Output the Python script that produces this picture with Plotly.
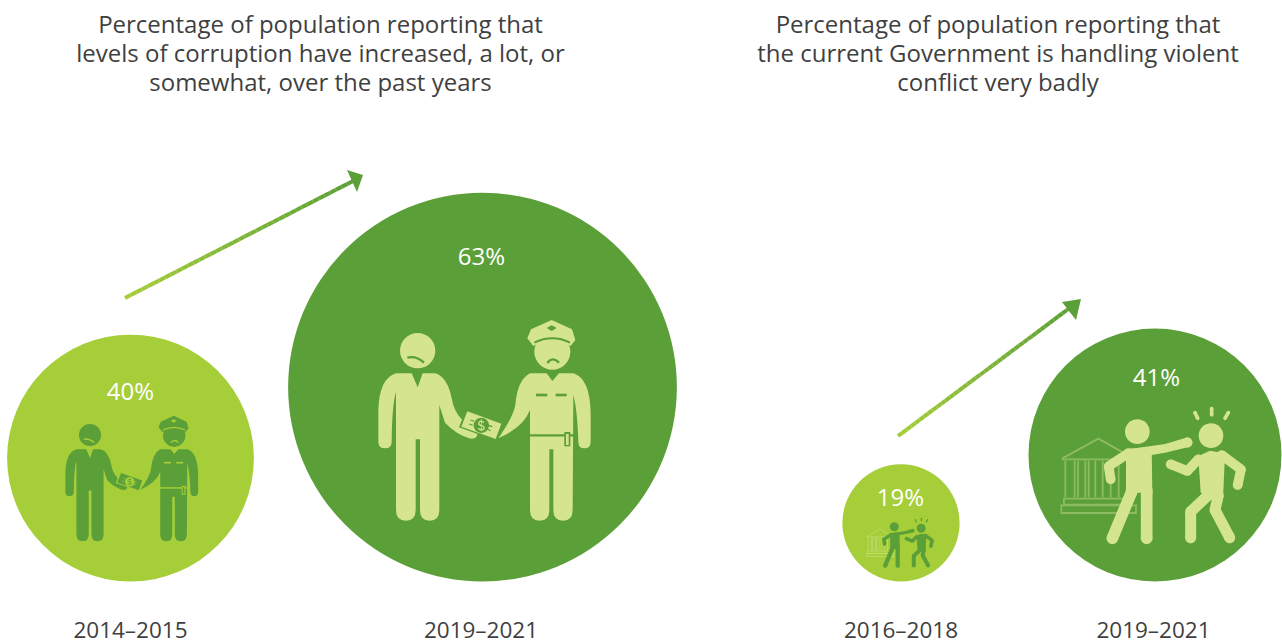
import re

import plotly.graph_objects as go

# data
CATEGORIES = ["2014–2015", "2019–2021", "2016–2018", "2019–2021"]
VALUES = [40, 63, 19, 41]
VALUE_LABELS = ["40%", "63%", "19%", "41%"]
TITLE_LEFT = [
    "Percentage of population reporting that",
    "levels of corruption have increased, a lot, or",
    "somewhat, over the past years",
]
TITLE_RIGHT = [
    "Percentage of population reporting that",
    "the current Government is handling violent",
    "conflict very badly",
]

LIGHT = "#A6CE39"
DARK = "#5B9F38"
PALE = "#D5E48F"
TEXT = "#3F3F3F"
FONT = "Open Sans"

W, H = 1282, 642
PX_PER_POINT = 6.17
BASELINE = 581.5
CENTERS = [130.5, 482.5, 901, 1155]
CATEGORY_X = [130.5, 481, 901, 1153.5]
LABEL_X = [130.5, 481.5, 900.5, 1156.5]
LABEL_Y = [394, 259, 500, 380]
TITLE_Y = [27, 56, 85]

shapes = []


def place(path, ox, oy, k):
    # path is written in a local icon coordinate system
    out, is_x = [], True
    for tok in re.findall(r"[A-Za-z]|-?[\d.]+", path):
        if tok.isalpha():
            out.append(tok)
            is_x = True
        else:
            out.append(f"{(ox if is_x else oy) + float(tok) * k:.2f}")
            is_x = not is_x
    return " ".join(out)


def circle_path(cx, cy, r):
    c = r * 0.5523
    return (
        f"M {cx - r} {cy} C {cx - r} {cy - c} {cx - c} {cy - r} {cx} {cy - r} "
        f"C {cx + c} {cy - r} {cx + r} {cy - c} {cx + r} {cy} "
        f"C {cx + r} {cy + c} {cx + c} {cy + r} {cx} {cy + r} "
        f"C {cx - c} {cy + r} {cx - r} {cy + c} {cx - r} {cy} Z"
    )


def fill(path, color, t):
    shapes.append(dict(type="path", xref="x", yref="y", path=place(path, *t), fillcolor=color, line_width=0, layer="above"))


def stroke(path, color, width, t):
    shapes.append(
        dict(type="path", xref="x", yref="y", path=place(path, *t), fillcolor="rgba(0,0,0,0)",
             line=dict(color=color, width=max(width * t[2], 0.5)), layer="above")
    )


def limb(points, width, color, t):
    # polyline with round caps and joints
    r = width / 2
    for (x1, y1), (x2, y2) in zip(points, points[1:]):
        dx, dy = x2 - x1, y2 - y1
        n = (dx * dx + dy * dy) ** 0.5
        px, py = -dy / n * r, dx / n * r
        fill(f"M {x1 + px} {y1 + py} L {x2 + px} {y2 + py} L {x2 - px} {y2 - py} L {x1 - px} {y1 - py} Z", color, t)
    for x, y in points:
        fill(circle_path(x, y, r), color, t)


def bribe_icon(fg, bg, t):
    # man
    fill(circle_path(173, 122, 53), fg, t)
    stroke("M 142 143 Q 168 136 192 158", bg, 7, t)
    fill(
        "M 108 190 L 155 190 L 173 232 L 188 190 L 225 190 Q 262 200 275 265 Q 282 305 305 328 Q 330 355 352 372 "
        "Q 352 386 332 386 Q 290 375 255 338 L 238 285 L 238 600 Q 238 632 209 632 Q 180 632 180 600 L 180 388 "
        "L 167 388 L 167 600 Q 167 632 138 632 Q 108 632 108 600 L 108 245 Q 96 285 95 395 Q 95 415 75 415 "
        "Q 55 415 55 395 L 55 300 Q 58 205 108 190 Z",
        fg, t,
    )
    # policeman
    fill(circle_path(577, 125, 54), fg, t)
    stroke("M 562 159 Q 578 138 597 158", bg, 7, t)
    fill(
        "M 502 85 L 513 58 L 575 30 L 636 58 L 646 90 L 632 108 Q 577 75 520 108 Z",
        fg, t,
    )
    stroke("M 523 98 Q 577 72 630 98", bg, 6, t)
    fill("M 560 54 L 575 46 L 590 54 L 575 63 Z", bg, t)
    fill(
        "M 510 190 L 560 190 L 577 213 L 597 190 L 640 190 Q 690 205 692 310 L 692 395 Q 692 415 673 415 "
        "Q 655 415 655 395 Q 652 300 640 255 L 638 600 Q 638 632 609 632 Q 580 632 580 600 L 580 418 L 568 418 "
        "L 568 600 Q 568 632 539 632 Q 510 632 510 600 L 510 300 Q 490 352 415 385 Q 460 320 466 285 Q 472 210 510 190 Z",
        fg, t,
    )
    stroke("M 510 376 L 640 376", bg, 7, t)
    fill("M 613 366 L 631 366 L 631 409 L 613 409 Z", bg, t)
    fill("M 618 372 L 626 372 L 626 405 L 618 405 Z", fg, t)
    stroke("M 528 255 L 562 255", bg, 8, t)
    stroke("M 587 255 L 620 255", bg, 8, t)
    # banknote
    fill("M 318 298 L 430 339 L 410 393 L 297 352 Z", bg, t)
    fill("M 322 304 L 424 341 L 407 387 L 304 350 Z", fg, t)
    fill(circle_path(364, 346, 23), bg, t)
    stroke("M 372 337 Q 358 330 356 340 Q 356 346 365 347 Q 374 350 372 356 Q 368 363 355 356", fg, 4, t)
    stroke("M 364 328 L 364 364", fg, 2.5, t)
    for seg in ["M 332 330 L 342 334", "M 328 342 L 338 346", "M 385 346 L 397 350", "M 382 358 L 392 362"]:
        stroke(seg, bg, 3.5, t)


def violence_icon(fg, line_color, t):
    # building behind the figures
    lw = 5.5
    stroke("M 36 176 L 145 116 L 252 176", line_color, lw, t)
    stroke("M 36 178 L 240 178", line_color, lw, t)
    for x in [46, 74, 84, 106, 116, 136, 158, 182, 206]:
        stroke(f"M {x} 182 L {x} 292", line_color, lw, t)
    stroke("M 42 296 L 232 296 L 232 314 L 42 314 Z", line_color, lw, t)
    stroke("M 34 316 L 258 316 L 258 339 L 34 339 Z", line_color, lw, t)
    # attacker
    fill(circle_path(262, 95, 37), fg, t)
    fill("M 228 146 L 305 141 L 307 285 L 272 278 L 228 280 Z", fg, t)
    fill("M 262 144 L 345 132 L 413 112 L 413 142 L 345 158 L 300 166 Z", fg, t)
    limb([(413, 127), (412, 128)], 29, fg, t)
    limb([(235, 160), (176, 199), (182, 238)], 29, fg, t)
    limb([(290, 270), (290, 415)], 35, fg, t)
    limb([(245, 275), (187, 415)], 35, fg, t)
    # victim
    fill(circle_path(483, 107, 37), fg, t)
    fill("M 445 168 L 480 152 L 525 160 L 520 275 L 495 295 L 452 278 Z", fg, t)
    limb([(445, 178), (412, 213), (362, 193)], 29, fg, t)
    limb([(515, 165), (573, 208), (563, 255)], 29, fg, t)
    limb([(475, 285), (422, 335), (422, 413)], 33, fg, t)
    limb([(505, 285), (495, 330), (539, 413)], 33, fg, t)
    for seg in [[(435, 38), (443, 55)], [(485, 26), (485, 44)], [(535, 38), (525, 55)]]:
        limb(seg, 11, fg, t)


def gradient_arrow(x0, y0, x1, y1, head):
    c0, c1 = (0xA6, 0xCE, 0x39), (0x5B, 0x9F, 0x38)
    n = 40
    for i in range(n):
        a, b = i / n, (i + 1) / n
        c = [round(p + (q - p) * (a + b) / 2) for p, q in zip(c0, c1)]
        shapes.append(
            dict(type="line", xref="x", yref="y", x0=x0 + (x1 - x0) * a, y0=y0 + (y1 - y0) * a,
                 x1=x0 + (x1 - x0) * b, y1=y0 + (y1 - y0) * b,
                 line=dict(color=f"rgb({c[0]},{c[1]},{c[2]})", width=4), layer="above")
        )
    (ax, ay), (bx, by), (cx, cy) = head
    shapes.append(dict(type="path", xref="x", yref="y", path=f"M {ax} {ay} L {bx} {by} L {cx} {cy} Z",
                       fillcolor=DARK, line_width=0, layer="above"))


diameters = [v * PX_PER_POINT for v in VALUES]
fig = go.Figure()
fig.add_trace(
    go.Scatter(
        x=CENTERS,
        y=[BASELINE - d / 2 for d in diameters],
        mode="markers",
        marker=dict(size=diameters, color=[LIGHT, DARK, LIGHT, DARK], line_width=0, opacity=1),
        hoverinfo="skip",
    )
)
fig.add_trace(
    go.Scatter(
        x=LABEL_X, y=LABEL_Y, mode="text", text=VALUE_LABELS,
        textfont=dict(family=FONT, size=24, color="#FFFFFF"), hoverinfo="skip",
    )
)
fig.add_trace(
    go.Scatter(
        x=CATEGORY_X, y=[632] * 4, mode="text", text=CATEGORIES,
        textfont=dict(family=FONT, size=22.5, color=TEXT), hoverinfo="skip", cliponaxis=False,
    )
)
for cx, lines in [(320.5, TITLE_LEFT), (998, TITLE_RIGHT)]:
    fig.add_trace(
        go.Scatter(
            x=[cx] * 3, y=TITLE_Y, mode="text", text=lines,
            textfont=dict(family=FONT, size=24, color=TEXT), hoverinfo="skip",
        )
    )

# icons, local coordinates taken from the largest version of each one
bribe_icon(PALE, DARK, (360, 310, 1 / 3))
bribe_icon(DARK, LIGHT, (90 - 173 / 3 * 0.625, 435 - 122 / 3 * 0.625, 0.625 / 3))
violence_icon(PALE, "#8DBB62", (1050, 400, 1 / 3))
violence_icon(DARK, "#C6DF78", (894.3 - 262 / 3 * 0.365, 526.7 - 95 / 3 * 0.365, 0.365 / 3))

gradient_arrow(125, 298, 353, 181, [(347, 170), (363, 175), (357, 192)])
gradient_arrow(898, 436, 1071, 307, [(1062, 302), (1081, 299), (1076, 320)])

fig.update_layout(
    width=W,
    height=H,
    margin=dict(l=0, r=0, t=0, b=0),
    paper_bgcolor="#FFFFFF",
    plot_bgcolor="#FFFFFF",
    showlegend=False,
    shapes=shapes,
)
fig.update_xaxes(range=[0, W], visible=False, fixedrange=True)
fig.update_yaxes(range=[H, 0], visible=False, fixedrange=True)

# the page's default body margin would push the figure out of the window
fig.write_html("out.html", config={"displayModeBar": False}, post_script="document.body.style.margin='0';")
